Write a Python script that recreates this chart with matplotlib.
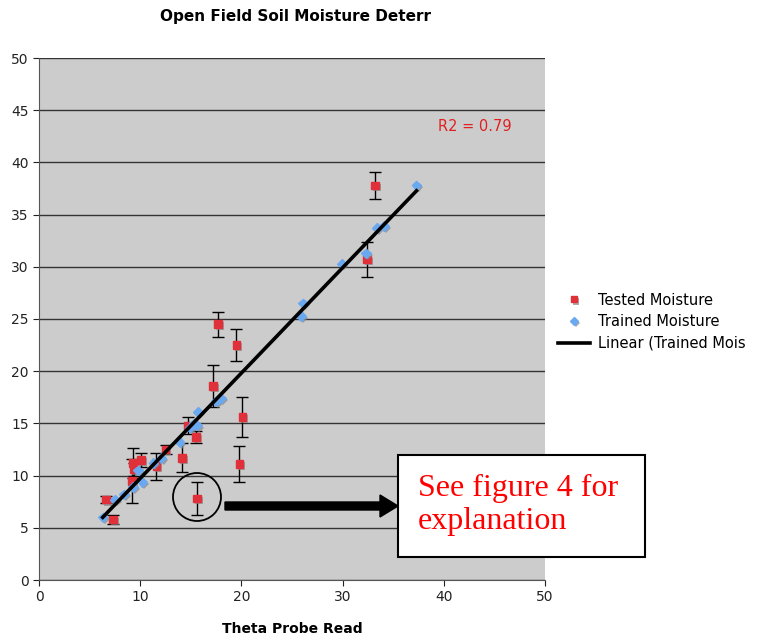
import matplotlib.pyplot as plt
import matplotlib.patheffects as pe
from matplotlib.patches import Circle, Rectangle, FancyArrow
import numpy as np

# tested moisture (red squares with error bars)
tested_x = [6.6, 7.3, 9.3, 9.4, 9.2, 10.1, 11.6, 12.5, 14.1, 14.7, 15.5, 15.6,
            17.2, 17.7, 19.5, 19.8, 20.1, 32.4, 33.2]
tested_y = [7.7, 5.8, 11.2, 10.6, 9.5, 11.5, 10.9, 12.5, 11.7, 14.8, 13.7, 7.8,
            18.6, 24.5, 22.5, 11.1, 15.6, 30.7, 37.8]
tested_err = [0.3, 0.4, 1.4, 0.6, 2.1, 0.7, 1.3, 0.4, 1.4, 0.8, 0.6, 1.6,
              2.0, 1.2, 1.5, 1.7, 1.9, 1.7, 1.3]

# trained moisture (blue diamonds)
trained_x = [6.3, 7.5, 8.4, 9.3, 9.8, 10.2, 11.3, 12.1, 13.9, 14.9, 15.3, 15.6,
             15.7, 17.5, 18.0, 25.9, 26.1, 29.9, 32.3, 33.4, 34.1, 37.3]
trained_y = [6.0, 7.7, 8.2, 8.9, 10.5, 9.4, 11.2, 11.7, 13.2, 14.6, 15.0, 14.8,
             16.1, 17.1, 17.4, 25.3, 26.5, 30.3, 31.3, 33.7, 33.9, 37.8]

r2_text = "R2 = 0.79"

fig = plt.figure(figsize=(7.59, 6.4), dpi=100)
ax = fig.add_axes([39 / 759, 60 / 640, 506 / 759, 522 / 640])
ax.set_facecolor("#cccccc")

shadow = [pe.SimplePatchShadow(offset=(1.5, -1.5), shadow_rgbFace="#888888", alpha=0.7), pe.Normal()]

ax.errorbar(tested_x, tested_y, yerr=tested_err, fmt="none", ecolor="black",
            elinewidth=1, capsize=4, capthick=1, zorder=3)
ax.plot(tested_x, tested_y, "s", color="#e0303a", markersize=5.5, zorder=4,
        path_effects=shadow, label="Tested Moisture")
ax.plot(trained_x, trained_y, "D", color="#6aa8f0", markersize=4.8, zorder=5,
        path_effects=shadow, label="Trained Moisture")

k, b = np.polyfit(trained_x, trained_y, 1)
fx = np.array([min(trained_x), max(trained_x)])
ax.plot(fx, k * fx + b, color="black", lw=2.6, zorder=6, label="Linear (Trained Mois")

ax.set_xlim(0, 50)
ax.set_ylim(0, 50)
ax.set_xticks(range(0, 51, 10))
ax.set_yticks(range(0, 51, 5))
ax.yaxis.grid(True, color="#333333", lw=1)
ax.set_axisbelow(True)
for s in ["top", "right"]:
    ax.spines[s].set_visible(False)
for s in ["left", "bottom"]:
    ax.spines[s].set_color("#555555")
ax.tick_params(labelsize=10, colors="#222222", length=4)

ax.text(39.4, 43.4, r2_text, color="#e02020", fontsize=10.5, va="center")

ax.set_xlabel("Theta Probe Read", fontsize=10, fontweight="bold", labelpad=13)
fig.text(295 / 759, 1 - 17 / 640, "Open Field Soil Moisture Deterr", fontsize=11,
         fontweight="bold", ha="center", va="center")

ax.legend(loc="center left", bbox_to_anchor=(1.0, 0.495), frameon=False,
          fontsize=10.5, handlelength=2.2, handletextpad=0.5, labelspacing=0.45,
          markerscale=0.8)

# annotation: circle, arrow, box
circ = Circle((197, 640 - 497), 24, transform=None, fill=False, ec="black", lw=1.3, zorder=7)
fig.patches.append(circ)
fig.patches.append(FancyArrow(225 / 759, 1 - 506 / 640, 155 / 759, 0, width=8 / 640,
                              head_width=22 / 640, head_length=18 / 759,
                              length_includes_head=False, color="black",
                              transform=fig.transFigure))
fig.patches.append(Rectangle((398 / 759, 1 - 557 / 640), 247 / 759, 102 / 640,
                             transform=fig.transFigure, fc="white", ec="black", lw=1.5))
fig.text(418 / 759, 1 - 505 / 640, "See figure 4 for\nexplanation", color="#ff0000",
         fontsize=23, family="Liberation Serif", va="center", ha="left", linespacing=1.2)

fig.savefig("out.png", dpi=100)
